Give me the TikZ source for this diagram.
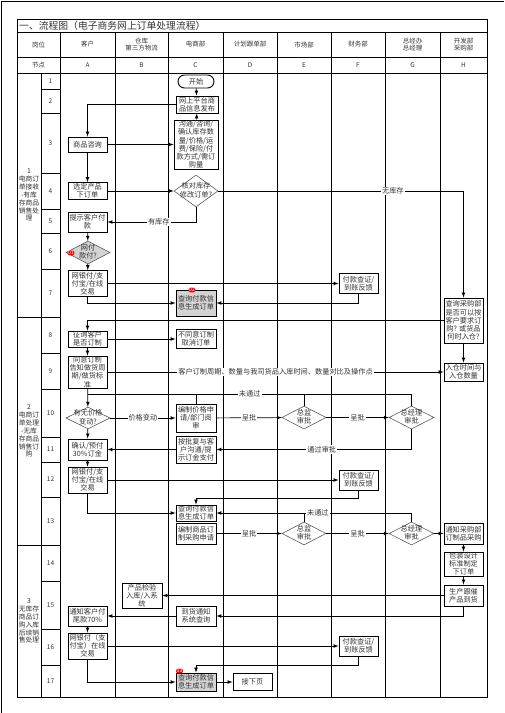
\documentclass[tikz,border=0pt]{standalone}
\usepackage{fontspec}
\setmainfont{Noto Sans CJK SC}
\usepackage{tikz}
\usetikzlibrary{arrows}
\usetikzlibrary{arrows.meta}
\usetikzlibrary{shapes}
\usetikzlibrary{shapes.geometric}
\tikzset{>=latex}
\definecolor{txt}{HTML}{333333}
\definecolor{boxgray}{HTML}{D3D3D3}
\newcommand{\nodefont}{\fontsize{7.2}{8.2}\selectfont}
\newcommand{\dtext}[1]{\makebox[0pt]{\raisebox{-1.9pt}[0pt][0pt]{\begin{tabular}{@{}c@{}}#1\end{tabular}}}}
\tikzstyle{stepbox} = [rectangle, draw=black, line width=0.9pt, inner sep=0pt, align=center, font=\nodefont, text=txt, minimum width=39pt]
\tikzstyle{paybox} = [stepbox, fill=boxgray]
\tikzstyle{check} = [diamond, draw=black!65, line width=0.6pt, inner sep=0pt, minimum width=44pt, minimum height=23pt, font=\nodefont, text=txt]
\tikzstyle{flow} = [-latex, line width=0.7pt]
\tikzstyle{tag} = [fill=white, inner sep=1pt, font=\nodefont, text=txt]
\tikzstyle{badge} = [fill=red, rounded corners=1.5pt, text=white, inner sep=0.6pt, font=\fontsize{5}{5}\selectfont]
\tikzstyle{head} = [align=center, font=\fontsize{6.5}{7.5}\selectfont, text=txt]
\tikzstyle{sect} = [align=center, font=\fontsize{6.8}{7.9}\selectfont, text=txt]

\begin{document}
\begin{tikzpicture}[x=1pt, y=-1pt]
\useasboundingbox (0,0) rectangle (504,713);
% frame and table grid
\draw [line width=0.8pt] (1.5,713) -- (1.5,1.5) -- (504,1.5);
\draw [line width=0.8pt] (17,19) rectangle (487,697);
\foreach \y in {32,57,73} \draw [line width=0.7pt] (17,\y) -- (487,\y);
\foreach \x in {60,115,168,223,277,331,385,440} \draw [line width=0.7pt] (\x,32) -- (\x,697);
\draw [line width=0.7pt] (41,73) -- (41,697);
\foreach \y in {89,113,173,209,233,269,353,389,437,462,497,581,629,665} \draw [line width=0.7pt] (41,\y) -- (60,\y);
\foreach \y in {317,545} \draw [line width=0.7pt] (17,\y) -- (60,\y);

\node [anchor=west, font=\fontsize{9.8}{11}\selectfont, text=txt, inner sep=0pt] (title) at (19,25.5) {一、流程图（电子商务网上订单处理流程）};
\foreach \x/\t [count=\i] in {38.5/岗位, 87.5/客户, 141.5/{仓库\\第三方物流}, 195.5/电商部, 250/计划跟单部, 304/市场部, 358/财务部, 412.5/{总经办\\总经理}, 463.5/{开发部\\采购部}}
  \node [head] (head\i) at (\x,44.5) {\t};
\foreach \x/\t [count=\i] in {38.5/节点, 87.5/A, 141.5/B, 195.5/C, 250/D, 304/E, 358/F, 412.5/G, 463.5/H}
  \node [head] (col\i) at (\x,65) {\t};
\foreach \y [count=\n] in {81,101,143,191,221,251,293,335,371,413,449.5,479.5,521,563,605,647,681}
  \node [head] (row\n) at (50.5,\y) {\n};
\node [sect] (sec1) at (29,195) {1\\电商订\\单接收\\-有库\\存商品\\销售处\\理};
\node [sect] (sec2) at (29,431) {2\\电商订\\单处理\\-无库\\存商品\\销售订\\购};
\node [sect] (sec3) at (29,621) {3\\无库存\\商品订\\购入库\\后续销\\售处理};

% section 1
\node [stepbox, rounded corners=6.5pt, minimum width=36pt, minimum height=13pt] (C1) at (196,81.5) {开始};
\node [stepbox, minimum width=42pt, minimum height=17pt] (C2) at (197,104.5) {网上平台商\\品信息发布};
\node [stepbox, minimum width=44pt, minimum height=49pt] (C3) at (196,144.5) {沟通/咨询/\\确认库存数\\量/价格/运\\费/保险/付\\款方式/需订\\购量};
\node [check, minimum height=32pt] (C4) at (196,191) {\dtext{核对库存\\修改订单?}};
\node [stepbox, minimum height=15pt] (A3) at (87.5,144.5) {商品咨询};
\node [stepbox, minimum height=17pt] (A4) at (87.5,191) {选定产品\\下订单};
\node [stepbox, minimum height=20pt] (A5) at (87.5,222) {提示客户付\\款};
\node [check, fill=boxgray] (A6) at (88,252.5) {\dtext{网付\\款付?}};
\node [stepbox, minimum height=26pt] (A7) at (87.5,283.5) {网银付/支\\付宝/在线\\交易};
\node [paybox, minimum width=40pt, minimum height=26pt] (C7) at (196,303) {查询付款信\\息生成订单};
\node [stepbox, minimum height=20pt] (F7) at (358.5,283.5) {付款查证/\\到账反馈};
\node [stepbox, minimum height=45pt] (H7) at (463.5,320.5) {查询采购部\\是否可以按\\客户要求订\\购? 或货品\\何时入仓?};
\node [badge] (no01) at (71,253) {01};
\node [badge] (no02) at (192,290) {02};

\draw [flow] (C1) -- (C2);
\draw [flow] (C3) -- (C2);
\draw [flow] (C2.west) -| (A3.north);
\draw [flow] (A3) -- (C3);
\draw [flow] (A3) -- (A4);
\draw [flow] (A4) -- (C4);
\draw [flow] (C4.east) -| (H7.north) node [tag, pos=0.356] {无库存};
\draw [flow] (C4.south) |- (A5.east) node [tag, pos=0.71] {有库存};
\draw [flow] (A5) -- (A6);
\draw [flow] (A6) -- (A7);
\draw [flow] (A7) -- (F7);
\draw [flow] (A7.south) |- (C7.west);
\draw [flow] (F7.south) |- (C7.east);

% section 2
\node [stepbox, minimum height=16pt] (A8) at (87.5,339) {征询客户\\是否订制};
\node [stepbox, minimum width=40pt, minimum height=19pt] (C8) at (196,339) {不同意订制\\取消订单};
\node [stepbox, minimum height=32pt] (A9) at (87.5,372) {同意订制\\告知做货周\\期/做货标\\准};
\node [stepbox, minimum height=18pt] (H9) at (463.5,372) {入仓时间与\\入仓数量};
\node [check, minimum height=22pt] (A10) at (88,418) {\dtext{有无价格\\变动?}};
\node [stepbox, minimum width=40pt, minimum height=28pt] (C10) at (196,418) {编制价格申\\请/部门阅\\审};
\node [check] (E10) at (304,417.5) {\dtext{总监\\审批}};
\node [check, minimum width=45pt] (G10) at (411.5,417.5) {\dtext{总经理\\审批}};
\node [stepbox, minimum height=21pt] (A11) at (87.5,449.5) {确认/预付\\30\%订金};
\node [stepbox, minimum width=40pt, minimum height=27pt] (C11) at (196,449.5) {按批复与客\\户沟通/提\\示订金支付};
\node [stepbox, minimum height=26pt] (A12) at (87.5,480) {网银付/支\\付宝/在线\\交易};
\node [stepbox, minimum height=20pt] (F12) at (358.5,480) {付款查证/\\到账反馈};
\node [stepbox, minimum width=40pt, minimum height=16pt] (C13q) at (196,513) {查询付款信\\息生成订单};
\node [stepbox, minimum width=40pt, minimum height=21pt] (C13p) at (196,533.5) {编制商品订\\制采购申请};
\node [check] (E13) at (304,533.5) {\dtext{总监\\审批}};
\node [check, minimum width=45pt] (G13) at (411.5,533.5) {\dtext{总经理\\审批}};
\node [stepbox, minimum height=21pt] (H13) at (463.5,533.5) {通知采购部\\订制品采购};
\coordinate (back10) at (88,394);

\draw [flow] (H7.west) -| (A8.north);
\draw [flow] (A8) -- (C8);
\draw [flow] (A8) -- (A9);
\draw [flow] (H7) -- (H9);
\draw [flow] (A9) -- (H9) node [tag, pos=0.5] {客户订制周期、数量与我司货品入库时间、数量对比及操作点};
\draw [flow] (A9) -- (A10);
\draw [line width=0.7pt] (G10.north) |- (back10) node [tag, pos=0.75] {未通过};
\draw [line width=0.7pt] (E10.north) -- (E10.north |- back10);
\draw [line width=0.7pt] (C10.north) -- (C10.north |- back10);
\draw [flow] (A10) -- (C10) node [tag, pos=0.5] {价格变动};
\draw [flow] (C10) -- (E10) node [tag, pos=0.5] {呈批};
\draw [flow] (E10) -- (G10) node [tag, pos=0.5] {呈批};
\draw [flow] (G10.south) |- (C11.east) node [tag, pos=0.73] {通过审批};
\draw [flow] (A10) -- (A11);
\draw [flow] (C11) -- (A11);
\draw [flow] (A11) -- (A12);
\draw [flow] (A12) -- (F12);
\draw [flow] (A12.south) |- (C13q.west);
\draw [flow] (F12.south) -- ++(0,8) -| (C13q.north);
\draw [flow] (G13.north) |- (C13q.east) node [tag, pos=0.74] {未通过};
\draw [line width=0.7pt] (E13.north) -- (E13.north |- C13q.east);
\draw [flow] (C13p) -- (E13) node [tag, pos=0.5] {呈批};
\draw [flow] (E13) -- (G13) node [tag, pos=0.5] {呈批};
\draw [flow] (G13) -- (H13);

% section 3
\node [stepbox, minimum height=24pt] (H14) at (463.5,564) {包装设计\\标准制定\\下订单};
\node [stepbox, minimum height=21pt] (H15) at (463.5,595.5) {生产跟催\\产品到货};
\node [stepbox, minimum width=40pt, minimum height=25pt] (B15) at (142,595.5) {产品检验\\入库/入系\\统};
\node [stepbox, minimum width=40pt, minimum height=20pt] (C15) at (196,616) {到货通知\\系统查询};
\node [stepbox, minimum height=20pt] (A15) at (87.5,616) {通知客户付\\尾款70\%};
\node [stepbox, minimum height=26pt] (A16) at (87.5,646) {网银付（支\\付宝）在线\\交易};
\node [stepbox, minimum height=20pt] (F16) at (358.5,646) {付款查证/\\到账反馈};
\node [paybox, minimum width=40pt, minimum height=18pt] (C17) at (196,682) {查询付款信\\息生成订单};
\node [stepbox, minimum height=17pt] (D17) at (252.5,682) {接下页};
\node [badge] (no03) at (179.5,671) {03};

\draw [flow] (H13) -- (H14);
\draw [flow] (H14) -- (H15);
\draw [flow] (H15) -- (B15);
\draw [flow] (H15.south) |- (C15.east);
\draw [flow] (C15) -- (A15);
\draw [flow] (A15) -- (A16);
\draw [flow] (A16) -- (F16);
\draw [flow] (A16.south) |- (C17.west);
\draw [flow] (F16.south) -- ++(0,9) -| (C17.north);
\draw [flow] (C17) -- (D17);
\end{tikzpicture}
\end{document}
